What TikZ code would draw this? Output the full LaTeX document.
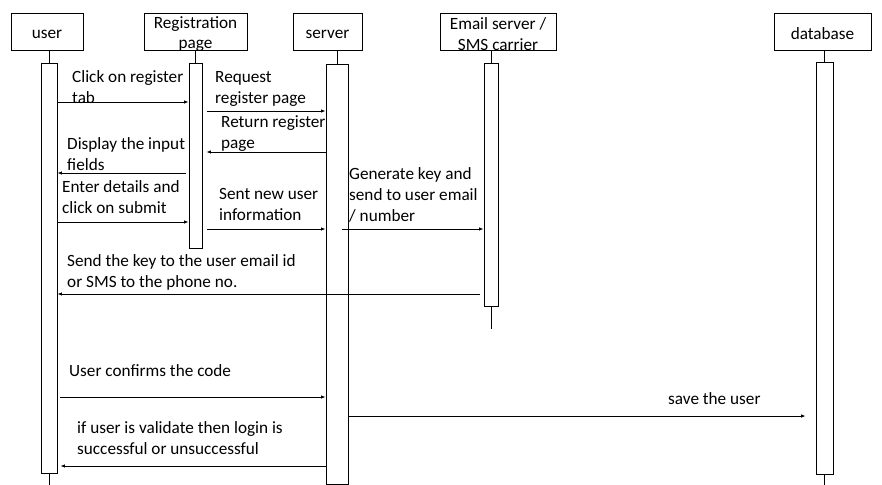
\documentclass[tikz,border=0pt]{standalone}
\usepackage{fontspec}
\setmainfont{Carlito}
\usepackage{tikz}
\usetikzlibrary{arrows.meta,positioning}
\definecolor{Ink}{HTML}{000000}
\tikzset{
  actor/.style={draw=Ink,line width=0.9pt,minimum height=37pt,inner sep=0pt},
  headtext/.style={inner sep=0pt,align=center,yshift=-2.5pt,
    font=\fontsize{17.2}{20.5}\selectfont},
  bar/.style={draw=Ink,line width=0.9pt,fill=white,inner sep=0pt,anchor=north},
  stub/.style={draw=Ink,line width=0.9pt},
  msg/.style={-{Latex[length=4.5pt,width=3.5pt]},line width=0.8pt,color=Ink},
  note/.style={anchor=north west,inner sep=0pt,align=left,
    font=\fontsize{17.2}{21}\selectfont}
}

\begin{document}
\begin{tikzpicture}[x=1pt,y=-1pt]
  \useasboundingbox (0,0) rectangle (882,484);
  \node[actor,minimum width=72pt,label={[headtext]center:user}] (user) at (47,31.5) {};
  \node[actor,minimum width=103pt,label={[headtext]center:Registration\\page}] (reg) at (195.5,31.5) {};
  \node[actor,minimum width=69pt,label={[headtext]center:server}] (server) at (327.5,31.5) {};
  \node[actor,minimum width=116pt,label={[headtext]center:Email server /\\SMS carrier}] (email) at (498,31.5) {};
  \node[actor,minimum width=97pt,label={[headtext]center:database}] (db) at (822.5,31.5) {};

  \node[bar,minimum width=16pt,minimum height=410pt] (uact) at (49,63) {};
  \node[bar,minimum width=13pt,minimum height=185pt] (ract) at (195.5,63) {};
  \node[bar,minimum width=22pt,minimum height=420pt] (sact) at (337,64) {};
  \node[bar,minimum width=14pt,minimum height=243pt] (eact) at (491,63) {};
  \node[bar,minimum width=17pt,minimum height=412pt] (dact) at (824.5,62) {};

  \draw[stub] (uact.north) -- (uact.north |- user.south);
  \draw[stub] (ract.north) -- (ract.north |- reg.south);
  \draw[stub] (sact.north) -- (sact.north |- server.south);
  \draw[stub] (eact.north) -- (eact.north |- email.south);
  \draw[stub] (dact.north) -- (dact.north |- db.south);
  \draw[stub] (uact.south) -- ++(0,11);
  \draw[stub] (eact.south) -- ++(0,22);
  \draw[stub] (dact.south) -- ++(0,10);

  \path (0,102) coordinate (r1) (0,111) coordinate (r2) (0,152) coordinate (r3)
        (0,173) coordinate (r4) (0,222) coordinate (r5) (0,229) coordinate (r6)
        (0,229) coordinate (r7) (0,294) coordinate (r8) (0,397) coordinate (r9)
        (0,416) coordinate (r10) (0,466) coordinate (r11);

  \node[note] (click) at (72,70) {Click on register\\tab};
  \node[note] (request) at (215,71) {Request\\register page};
  \node[note] (return) at (221,115) {Return register\\page};
  \node[note] (display) at (67,137) {Display the input\\fields};
  \node[note] (enter) at (62,180) {Enter details and\\click on submit};
  \node[note] (sent) at (219,188) {Sent new user\\information};
  \node[note] (genkey) at (349,167) {Generate key and\\send to user email\\/ number};
  \node[note] (sendkey) at (67,254) {Send the key to the user email id\\or SMS to the phone no.};
  \node[note] (confirm) at (69,364) {User confirms the code};
  \node[note] (save) at (668,392) {save the user};
  \node[note] (login) at (77,421) {if user is validate then login is\\successful or unsuccessful};

  \draw[msg] (uact.east |- r1) -- (ract.west |- r1);
  \draw[msg,shorten <=5pt] (ract.east |- r2) -- (sact.west |- r2);
  \draw[msg,shorten >=4pt] (sact.west |- r3) -- (ract.east |- r3);
  \draw[msg,shorten <=3pt] (ract.west |- r4) -- (uact.east |- r4);
  \draw[msg] (uact.east |- r5) -- (ract.west |- r5);
  \draw[msg,shorten <=5pt] (ract.east |- r6) -- (sact.west |- r6);
  \draw[msg,shorten <=-6pt] (sact.east |- r7) -- (eact.west |- r7);
  \draw[msg,shorten <=4pt] (eact.west |- r8) -- (uact.east |- r8);
  \draw[msg,shorten <=3pt] (uact.east |- r9) -- (sact.west |- r9);
  \draw[msg,shorten >=10pt] (sact.east |- r10) -- (dact.west |- r10);
  \draw[msg,shorten >=3pt] (sact.west |- r11) -- (uact.east |- r11);
\end{tikzpicture}
\end{document}
